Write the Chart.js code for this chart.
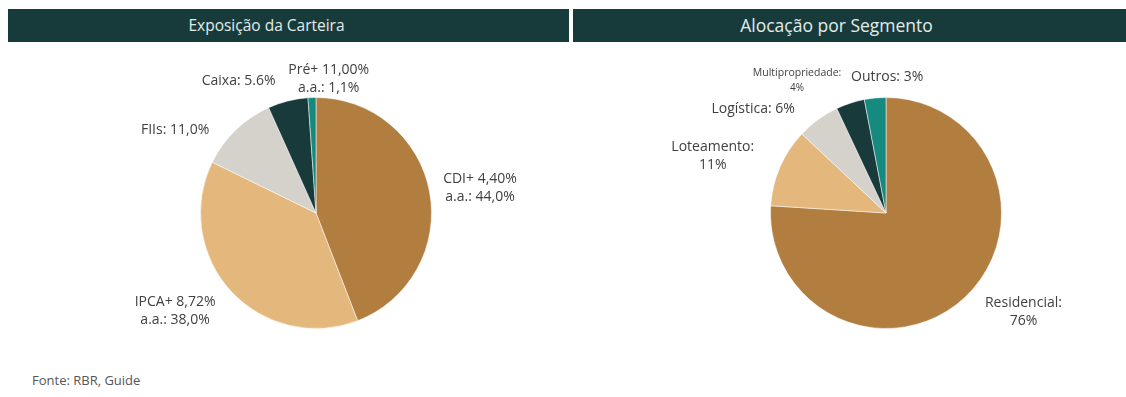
<!DOCTYPE html>
<html>
<head>
<meta charset="utf-8">
<script src="https://cdn.jsdelivr.net/npm/chart.js@4.4.0/dist/chart.umd.min.js"></script>
<style>
    html, body { margin: 0; padding: 0; background: #fff; }
    body { width: 1126px; height: 397px; position: relative; overflow: hidden; font-family: 'Open Sans', sans-serif; }
    .header {
        position: absolute; top: 9px; height: 33px; background: #173b3a;
        color: #e4ecea; line-height: 33px; text-align: center; box-sizing: border-box;
    }
    .pie { position: absolute; top: 63px; width: 440px; height: 300px; }
    .source { position: absolute; left: 32px; top: 371px; font-size: 13px; color: #555; }
</style>
</head>
<body>
<div class="header" style="left:8px; width:561px; padding-right:44px; font-size:15.5px;">Exposição da Carteira</div>
<div class="header" style="left:573px; width:553px; padding-right:26px; font-size:17.5px;">Alocação por Segmento</div>
<div class="pie" style="left:96px;"><canvas id="exposicao"></canvas></div>
<div class="pie" style="left:666px;"><canvas id="segmento"></canvas></div>
<div class="source">Fonte: RBR, Guide</div>

<script>
// Exposição da carteira (%)
const exposicaoLabels = [
    ['CDI+ 4,40%', 'a.a.: 44,0%'],
    ['IPCA+ 8,72%', 'a.a.: 38,0%'],
    ['FIIs: 11,0%'],
    ['Caixa: 5.6%'],
    ['Pré+ 11,00%', 'a.a.: 1,1%']
];
const exposicaoValues = [44.0, 38.0, 11.0, 5.6, 1.1];

// Alocação por segmento (%)
const segmentoLabels = [
    ['Residencial:', '76%'],
    ['Loteamento:', '11%'],
    ['Logística: 6%'],
    ['Multipropriedade:', '4%'],
    ['Outros: 3%']
];
const segmentoValues = [76, 11, 6, 4, 3];

const sliceColors = ['#b27e40', '#e4b77c', '#d5d2cc', '#183a3b', '#178a80'];

// label anchor relative to pie centre, in units of the radius
const exposicaoAnchors = [[1.42, -0.22], [-1.22, 0.85], [-1.22, -0.72], [-0.67, -1.14], [0.11, -1.16]];
const segmentoAnchors = [[1.19, 0.86], [-1.50, -0.49], [-1.15, -0.90], [-0.77, -1.15], [0.01, -1.18]];

const outsideLabels = {
    id: 'outsideLabels',
    afterDraw(chart, args, opts) {
        const ctx = chart.ctx;
        const arc = chart.getDatasetMeta(0).data[0];
        const cx = arc.x, cy = arc.y, r = arc.outerRadius;
        ctx.save();
        ctx.fillStyle = '#404040';
        ctx.textAlign = 'center';
        ctx.textBaseline = 'middle';
        chart.data.labels.forEach((lines, i) => {
            const [ax, ay] = opts.anchors[i];
            const small = opts.smallIndex === i;
            const lh = small ? 15 : 18;
            const x = cx + ax * r;
            const y0 = cy + ay * r - (lines.length - 1) * lh / 2;
            lines.forEach((line, j) => {
                ctx.font = (small && j === 0 ? '10.5px' : small ? '10px' : '14px') + " 'Open Sans', sans-serif";
                ctx.fillText(line, x, y0 + j * lh);
            });
        });
        ctx.restore();
    }
};

function makePie(id, labels, values, anchors, smallIndex) {
    new Chart(document.getElementById(id), {
        type: 'pie',
        data: {
            labels: labels,
            datasets: [{
                data: values,
                backgroundColor: sliceColors,
                borderColor: 'rgba(255,255,255,0.5)',
                borderWidth: 1
            }]
        },
        options: {
            responsive: true,
            maintainAspectRatio: false,
            animation: false,
            layout: { padding: 34 },
            plugins: {
                legend: { display: false },
                tooltip: { enabled: false },
                outsideLabels: { anchors: anchors, smallIndex: smallIndex }
            }
        },
        plugins: [outsideLabels]
    });
}

makePie('exposicao', exposicaoLabels, exposicaoValues, exposicaoAnchors, -1);
makePie('segmento', segmentoLabels, segmentoValues, segmentoAnchors, 3);
</script>
</body>
</html>
